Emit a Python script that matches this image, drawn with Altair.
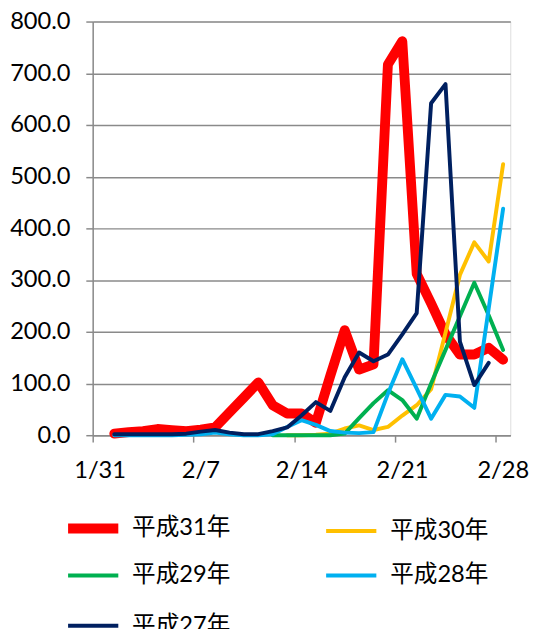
import json
import altair as alt
import pandas as pd

# ---- data ----
dates = ["2/1", "2/2", "2/3", "2/4", "2/5", "2/6", "2/7", "2/8", "2/9", "2/10",
         "2/11", "2/12", "2/13", "2/14", "2/15", "2/16", "2/17", "2/18", "2/19", "2/20",
         "2/21", "2/22", "2/23", "2/24", "2/25", "2/26", "2/27", "2/28"]

x_tick_labels = ["1/31", "2/7", "2/14", "2/21", "2/28"]
y_ticks = [0, 100, 200, 300, 400, 500, 600, 700, 800]

series_names = ["平成31年", "平成30年", "平成29年", "平成28年", "平成27年"]
series_colors = ["#FF0000", "#FFC000", "#00B050", "#00B0F0", "#002060"]
series_widths = [10, 4, 4, 4, 4]

h31 = [3, 6, 8, 12, 10, 8, 11, 15, 44, 73, 102, 58, 42, 42, 24, 115, 203, 127, 137, 717,
       762, 312, 255, 195, 156, 156, 169, 146]
h30 = [None, None, None, None, None, None, None, None, None, None, None, None, 0, 0, 1, 3, 13, 19, 10, 16,
       38, 58, 89, 198, 310, 373, 336, 524]
h29 = [None, None, None, None, None, None, None, None, None, None, None, 0, 0, 0, 0, 0, 3, 33, 62, 87,
       68, 32, 100, 165, 230, 295, 232, 165]
h28 = [0, 0, 0, 0, 0, 1, 2, 5, 2, 0, 0, 2, 16, 29, 20, 8, 5, 4, 6, 80,
       147, 90, 32, 78, 75, 53, 245, 438]
h27 = [2, 2, 2, 2, 2, 3, 7, 10, 5, 2, 2, 8, 15, 38, 64, 47, 112, 160, 143, 156,
       195, 236, 642, 679, 181, 97, 140, None]

all_values = [h31, h30, h29, h28, h27]

rows = []
for name, vals in zip(series_names, all_values):
    for i, (d, v) in enumerate(zip(dates, vals)):
        if v is None:
            continue
        # day slot index counted from 1/31 (=0); point sits at slot centre
        rows.append({"series": name, "date": d, "slot": i + 1 + 0.5, "value": v})
df = pd.DataFrame(rows)

FONT = "Lato, 'Noto Sans CJK JP', sans-serif"
GRID = "#8a8a8a"

label_expr = "%s[round(datum.value / 7)]" % json.dumps(x_tick_labels, ensure_ascii=False)

color_scale = alt.Scale(domain=series_names, range=series_colors)
width_scale = alt.Scale(type="ordinal", domain=series_names, range=series_widths)

legend = alt.Legend(
    title=None, orient="none", legendX=-30, legendY=484, columns=2, direction="horizontal",
    gridAlign="all",
    symbolType="stroke", symbolSize=2600, labelFontSize=24, labelFont=FONT,
    labelColor="#000000", labelOffset=9, columnPadding=89, rowPadding=-17.5,
    labelLimit=300, symbolStrokeWidth=4,
)

base = alt.Chart(df).mark_line(strokeCap="round", strokeJoin="round").encode(
    x=alt.X("slot:Q", scale=alt.Scale(domain=[0, 29], nice=False, zero=False),
            axis=alt.Axis(title=None, values=[0, 7, 14, 21, 28], labelExpr=label_expr,
                          labelOffset=7, labelFlush=False, grid=False, tickSize=7, labelPadding=17,
                          domainColor=GRID, tickColor=GRID, domainWidth=1.5, tickWidth=1.5,
                          labelFontSize=24, labelFont=FONT, labelColor="#000000")),
    y=alt.Y("value:Q", scale=alt.Scale(domain=[0, 800], nice=False),
            axis=alt.Axis(title=None, values=y_ticks, format=".1f", grid=True,
                          gridColor=GRID, gridWidth=1.5, tickSize=7, labelPadding=16,
                          domainColor=GRID, tickColor=GRID, domainWidth=1.5, tickWidth=1.5,
                          labelFontSize=24, labelFont=FONT, labelColor="#000000")),
    color=alt.Color("series:N", scale=color_scale, legend=legend),
    strokeWidth=alt.StrokeWidth("series:N", scale=width_scale, legend=legend),
)

layers = [base.transform_filter(alt.datum.series == s) for s in series_names]

chart = alt.layer(*layers).properties(
    width=424, height=420,
    autosize=alt.AutoSizeParams(type="none"),
    padding={"left": 86, "top": 9, "right": 20, "bottom": 192},
).configure_view(stroke=None).configure(font=FONT, background="white")

chart.save("out.html", embed_options={"renderer": "svg", "actions": False})
